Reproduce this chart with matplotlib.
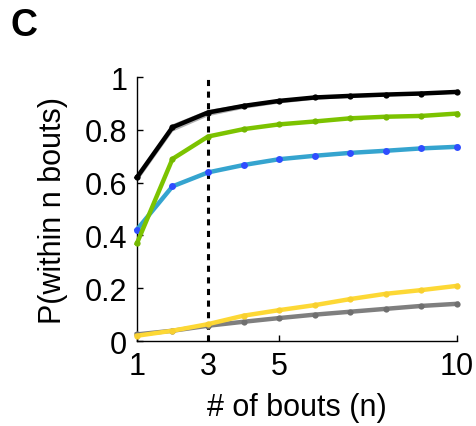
import numpy as np
import matplotlib
matplotlib.use("Agg")
import matplotlib.pyplot as plt

plt.rcParams['font.family'] = ['Liberation Sans', 'DejaVu Sans']

# number of bouts
n = [1, 2, 3, 4, 5, 6, 7, 8, 9, 10]

# cumulative probabilities
p_black = [0.62, 0.81, 0.866, 0.891, 0.91, 0.923, 0.929, 0.934, 0.938, 0.944]
sem_black = [0.014, 0.014, 0.012, 0.009, 0.008, 0.007, 0.006, 0.005, 0.005, 0.004]
p_green = [0.37, 0.69, 0.775, 0.803, 0.821, 0.832, 0.844, 0.85, 0.853, 0.862]
p_blue = [0.422, 0.586, 0.639, 0.667, 0.689, 0.702, 0.713, 0.721, 0.73, 0.736]
p_gray = [0.025, 0.039, 0.058, 0.073, 0.087, 0.1, 0.111, 0.122, 0.133, 0.141]
p_yellow = [0.02, 0.039, 0.064, 0.096, 0.117, 0.136, 0.159, 0.179, 0.193, 0.209]

xticks = [1, 3, 5, 10]
yticks = [0, 0.2, 0.4, 0.6, 0.8, 1]
yticklabels = ['0', '0.2', '0.4', '0.6', '0.8', '1']

fig = plt.figure(figsize=(4.77, 4.27), dpi=100)
ax = fig.add_axes([0.287, 0.199, 0.671, 0.618])

# vertical dotted marker at n = 3
ax.plot([3, 3], [0, 1], color='black', lw=2.2, ls=(0, (2.0, 1.8)), zorder=1)

lo = np.array(p_black) - np.array(sem_black)
hi = np.array(p_black) + np.array(sem_black)
ax.fill_between(n, lo, hi, color='#b0b0b0', lw=0, zorder=2)

lw = 3.2
ax.plot(n, p_gray, color='#7f7f7f', lw=lw, marker='o', ms=4.5, mfc='#6f6f6f', mec='none', clip_on=False, zorder=3)
ax.plot(n, p_yellow, color='#fdd835', lw=lw, marker='o', ms=4.5, mfc='#f8d030', mec='none', clip_on=False, zorder=4)
ax.plot(n, p_blue, color='#35a4cf', lw=lw, marker='o', ms=5, mfc='#2f4dff', mec='none', clip_on=False, zorder=5)
ax.plot(n, p_green, color='#7cc300', lw=lw, marker='o', ms=4.5, mfc='#74b800', mec='none', clip_on=False, zorder=6)
ax.plot(n, p_black, color='black', lw=lw, marker='o', ms=4.5, mfc='black', mec='none', clip_on=False, zorder=7)

ax.set_xlim(1, 10)
ax.set_ylim(0, 1)
ax.set_xticks(xticks)
ax.set_yticks(yticks)
ax.set_yticklabels(yticklabels)
ax.spines['top'].set_visible(False)
ax.spines['right'].set_visible(False)
for s in ['left', 'bottom']:
    ax.spines[s].set_linewidth(1.0)
ax.tick_params(direction='in', length=4, width=1, labelsize=22)
ax.tick_params(axis='x', pad=7)
ax.tick_params(axis='y', pad=7)

ax.set_xlabel('# of bouts (n)', fontsize=22, labelpad=8)
ax.set_ylabel('P(within n bouts)', fontsize=22, labelpad=12)

fig.text(0.021, 0.981, 'C', fontsize=27, fontweight='bold', va='top', ha='left')

fig.savefig('out.png', dpi=100)
